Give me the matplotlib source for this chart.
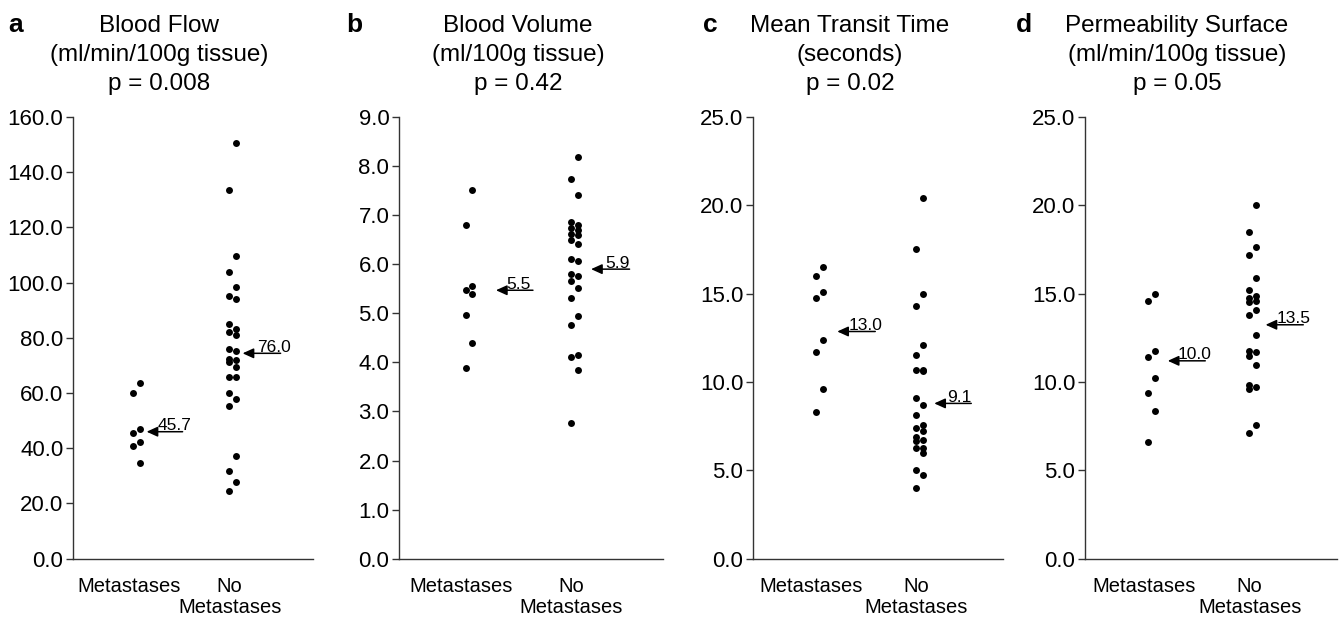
import matplotlib
matplotlib.use('Agg')
import matplotlib.pyplot as plt
from matplotlib.transforms import offset_copy, ScaledTranslation

plt.rcParams['font.family'] = ['Liberation Sans', 'DejaVu Sans']

# ---------------- data ----------------
groups = ['Metastases', 'No\nMetastases']

bf_met = [63.8, 59.9, 46.9, 45.7, 42.2, 40.8, 34.6]
bf_nomet = [150.6, 133.7, 109.7, 103.7, 98.4, 95.0, 94.0, 85.1, 83.1, 82.1, 81.1,
            76.0, 75.4, 72.5, 71.8, 71.4, 69.6, 65.9, 65.9, 59.9, 57.8, 55.3,
            37.2, 31.9, 27.9, 24.4]

bv_met = [7.51, 6.79, 5.56, 5.47, 5.39, 4.96, 4.39, 3.89]
bv_nomet = [8.19, 7.74, 7.41, 6.87, 6.79, 6.74, 6.69, 6.62, 6.59, 6.50, 6.42, 6.11,
            6.06, 5.80, 5.77, 5.66, 5.51, 5.32, 4.94, 4.77, 4.16, 4.10, 3.84, 2.76]

mtt_met = [16.50, 16.00, 15.11, 14.73, 12.39, 11.70, 9.60, 8.30]
mtt_nomet = [20.44, 17.54, 14.98, 14.30, 12.08, 11.52, 10.68, 10.66, 10.63, 9.07, 8.69,
             8.13, 7.59, 7.37, 7.25, 6.89, 6.74, 6.65, 6.27, 6.27, 5.98, 5.04, 4.72, 4.00]

ps_met = [14.99, 14.59, 11.76, 11.41, 10.24, 9.37, 8.37, 6.58]
ps_nomet = [20.02, 18.48, 17.65, 17.19, 15.91, 15.22, 14.86, 14.74, 14.60, 14.55, 14.10,
            13.80, 12.67, 11.78, 11.72, 11.46, 10.95, 9.82, 9.69, 9.60, 7.58, 7.11]

# arrow (summary) positions and their printed labels
bf_arrow = [46.0, 74.4]
bv_arrow = [5.47, 5.90]
mtt_arrow = [12.86, 8.79]
ps_arrow = [11.2, 13.24]
bf_labels = ['45.7', '76.0']
bv_labels = ['5.5', '5.9']
mtt_labels = ['13.0', '9.1']
ps_labels = ['10.0', '13.5']

letters = ['a', 'b', 'c', 'd']
titles = [('Blood Flow', '(ml/min/100g tissue)', 'p = 0.008'),
          ('Blood Volume', '(ml/100g tissue)', 'p = 0.42'),
          ('Mean Transit Time', '(seconds)', 'p = 0.02'),
          ('Permeability Surface', '(ml/min/100g tissue)', 'p = 0.05')]
y_max = [160, 9, 25, 25]
y_step = [20, 1, 5, 5]

series = [(bf_met, bf_nomet), (bv_met, bv_nomet), (mtt_met, mtt_nomet), (ps_met, ps_nomet)]
arrows = [bf_arrow, bv_arrow, mtt_arrow, ps_arrow]
arrow_labels = [bf_labels, bv_labels, mtt_labels, ps_labels]

# ---------------- layout (pixels) ----------------
W, H = 1340, 626
fig = plt.figure(figsize=(W / 100, H / 100), dpi=100)

axes_px = [(73, 313), (399, 663), (753, 1003), (1085, 1337)]
bottom_px, top_px = 558.7, 117.0
title_cx = [159, 518, 850, 1177]
letter_x = [8, 346, 703, 1016]
title_base = [32, 61.5, 90]
# arrow geometry relative to column centre (px): head, tail, text centre
arrow_geom = [[(10, 46, 38), (10, 48, 41)],
              [(27, 64, 50), (16.5, 55, 43)],
              [(18, 56, 46), (15, 52, 40)],
              [(16, 53.5, 42.5), (13, 50.7, 41.5)]]
col_off = 3.3
ink = '#000000'

for p in range(4):
    l, r = axes_px[p]
    ax = fig.add_axes([l / W, 1 - bottom_px / H, (r - l) / W, (bottom_px - top_px) / H])
    ax.set_xlim(0.3375, 2.8375)
    ax.set_ylim(0, y_max[p])
    for s in ('top', 'right'):
        ax.spines[s].set_visible(False)
    for s in ('left', 'bottom'):
        ax.spines[s].set_color('#333333')
        ax.spines[s].set_linewidth(1.0)
    yt = [i * y_step[p] for i in range(int(round(y_max[p] / y_step[p])) + 1)]
    ax.set_yticks(yt)
    ax.set_yticklabels([f'{v:.1f}' for v in yt])
    ax.tick_params(axis='y', direction='out', length=5, width=1, color='#333333',
                   labelsize=16, pad=2)
    ax.set_xticks([1, 2])
    ax.set_xticklabels(groups, linespacing=1.15)
    ax.tick_params(axis='x', length=0, labelsize=14.5, pad=13)
    shifts = [-8, -3]
    for lab, dx in zip(ax.get_xticklabels(), shifts):
        lab.set_transform(lab.get_transform() + ScaledTranslation(dx / 100, 0, fig.dpi_scale_trans))

    for gi, vals in enumerate(series[p]):
        cx = gi + 1
        ordered = sorted(vals, reverse=True)
        right = [v for i, v in enumerate(ordered) if i % 2 == 0]
        left = [v for i, v in enumerate(ordered) if i % 2 == 1]
        for pts, dx in ((right, col_off), (left, -col_off)):
            tr = offset_copy(ax.transData, fig=fig, x=dx, y=0, units='dots')
            ax.plot([cx] * len(pts), pts, 'o', color=ink, markersize=5.0,
                    markeredgewidth=0, transform=tr, clip_on=False)

        head, tail, tc = arrow_geom[p][gi]
        ay = arrows[p][gi]
        ax.annotate('', xy=(cx, ay),
                    xycoords=offset_copy(ax.transData, fig=fig, x=head, y=0, units='dots'),
                    xytext=(cx, ay),
                    textcoords=offset_copy(ax.transData, fig=fig, x=tail, y=0, units='dots'),
                    arrowprops=dict(arrowstyle='-|>,head_length=0.55,head_width=0.25',
                                    color=ink, lw=1.1, shrinkA=0, shrinkB=0,
                                    mutation_scale=12))
        ax.text(cx, ay, arrow_labels[p][gi],
                transform=offset_copy(ax.transData, fig=fig, x=tc, y=1.5, units='dots'),
                ha='center', va='baseline', fontsize=12.5, color=ink)

    for li, line in enumerate(titles[p]):
        fig.text(title_cx[p] / W, 1 - title_base[li] / H, line, ha='center', va='baseline',
                 fontsize=17.5, color=ink)
    fig.text(letter_x[p] / W, 1 - title_base[0] / H, letters[p], ha='left', va='baseline',
             fontsize=19, fontweight='bold', color=ink)

fig.savefig('out.png', dpi=100)
